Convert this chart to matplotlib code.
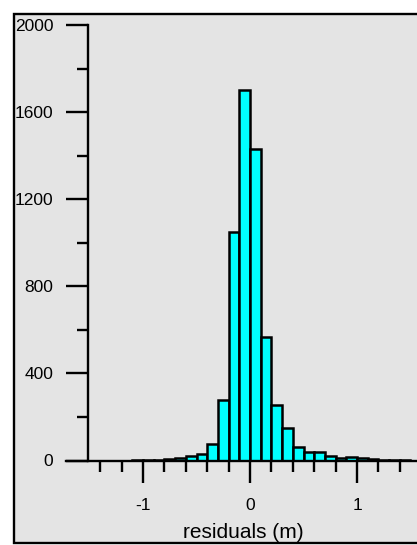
import numpy as np
import matplotlib
matplotlib.use("Agg")
import matplotlib.pyplot as plt
from matplotlib.patches import Rectangle
from matplotlib.ticker import FixedLocator

plt.rcParams['font.family'] = ['Liberation Sans', 'DejaVu Sans']

# Data: histogram of residuals (bin width 0.1 m)
bin_left = [-1.1, -1.0, -0.9, -0.8, -0.7, -0.6, -0.5, -0.4, -0.3, -0.2, -0.1,
            0.0, 0.1, 0.2, 0.3, 0.4, 0.5, 0.6, 0.7, 0.8, 0.9, 1.0, 1.1, 1.2, 1.3, 1.4]
counts = [2, 3, 3, 5, 10, 20, 28, 78, 280, 1048, 1700,
          1430, 566, 254, 150, 64, 38, 38, 22, 10, 18, 11, 6, 3, 2, 2]
bin_width = 0.1
y_major = [0, 400, 800, 1200, 1600, 2000]
y_minor = [200, 600, 1000, 1400, 1800]
x_major = [-1, 0, 1]
x_minor = [-1.4, -1.2, -0.8, -0.6, -0.4, -0.2, 0.2, 0.4, 0.6, 0.8, 1.2, 1.4]
xlabel = "residuals (m)"

W, H = 417, 545
fig = plt.figure(figsize=(W / 100, H / 100), dpi=100, facecolor='white')

bg = '#e4e4e4'
frame = Rectangle((13.8 / W, 1 - 543.3 / H), 1.2, (543.3 - 14) / H,
                  transform=fig.transFigure, facecolor=bg, edgecolor='black',
                  linewidth=1.7, zorder=-10)
fig.patches.append(frame)

px_per_unit = 107.0
x0_px = 250.0
ax_left_px, ax_right_px = 66.0, 417.0
ax_top_px, ax_bot_px = 25.0, 460.5
ax = fig.add_axes([ax_left_px / W, 1 - ax_bot_px / H,
                   (ax_right_px - ax_left_px) / W, (ax_bot_px - ax_top_px) / H])
ax.set_zorder(5)
ax.set_facecolor('none')
ax.set_xlim((ax_left_px - x0_px) / px_per_unit, (ax_right_px - x0_px) / px_per_unit)
ax.set_ylim(0, 2000)

ax.bar(bin_left, counts, width=bin_width, align='edge', color='#00ffff',
       edgecolor='black', linewidth=1.8, zorder=2)

for s in ['top', 'right']:
    ax.spines[s].set_visible(False)
ax.spines['left'].set_position(('data', (88.0 - x0_px) / px_per_unit))
ax.spines['left'].set_linewidth(1.7)
ax.spines['bottom'].set_linewidth(1.7)
ax.spines['bottom'].set_zorder(3)

ax.yaxis.set_major_locator(FixedLocator(y_major))
ax.yaxis.set_minor_locator(FixedLocator(y_minor))
ax.xaxis.set_major_locator(FixedLocator(x_major))
ax.xaxis.set_minor_locator(FixedLocator(x_minor))
ax.set_yticklabels([str(v) for v in y_major])
ax.set_xticklabels([str(v) for v in x_major])

ax.tick_params(axis='y', which='major', direction='out', length=16, width=1.7,
               labelsize=12.5, pad=9)
ax.tick_params(axis='y', which='minor', direction='out', length=8, width=1.7)
ax.tick_params(axis='x', which='major', direction='out', length=16, width=1.7,
               labelsize=12.5, pad=11)
ax.tick_params(axis='x', which='minor', direction='out', length=8, width=1.7)

fig.text(243 / W, 1 - 533 / H, xlabel, ha='center', va='center', fontsize=15)

fig.savefig('out.png', dpi=100, facecolor='white')
